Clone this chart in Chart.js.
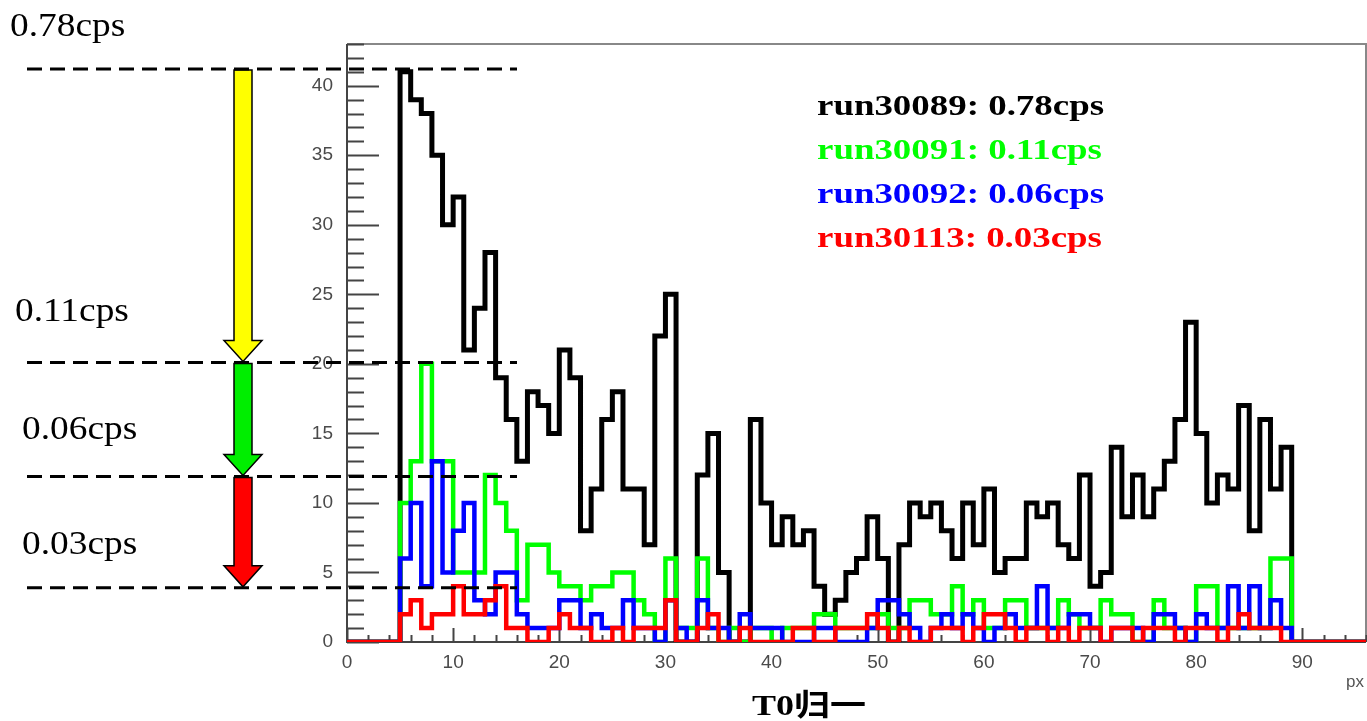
<!DOCTYPE html>
<html>
<head>
<meta charset="utf-8">
<script src="https://cdn.jsdelivr.net/npm/chart.js@4.4.1/dist/chart.umd.min.js"></script>
<style>
  body { margin:0; width:1367px; height:721px; overflow:hidden; background:#fff; position:relative; }
  #c { position:absolute; left:0; top:0; }
  .serif { position:absolute; font-family:"Liberation Serif","Times New Roman",serif; white-space:nowrap; transform-origin:left center; }
  .cps { font-size:34px; line-height:34px; transform:scaleX(1.1); color:#000; }
  .legend { left:817px; top:83px; font-size:30px; line-height:44px; font-weight:bold; transform:scaleX(1.23); transform-origin:left top; }
  .title { left:752px; top:688px; font-size:30px; line-height:34px; font-weight:bold; transform:scaleX(1.2);
           font-family:"Liberation Serif","Times New Roman","Noto Sans CJK SC",serif; }
  .axis-title { position:absolute; right:3px; top:672px; font:17px "Liberation Sans",Arial,sans-serif; color:#555; }
</style>
</head>
<body>
<canvas id="c" width="1367" height="721"></canvas>
<div id="notes"></div>
<div class="serif legend" id="legend"></div>
<div class="serif title">T0归一</div>
<div class="axis-title">px</div>

<script>
/* ---------- data: counts per 1-px bin, bins 0..95 ---------- */
const runs   = ['run30089', 'run30091', 'run30092', 'run30113'];
const rates  = ['0.78', '0.11', '0.06', '0.03'];
const colors = ['#000000', '#00ff00', '#0000ff', '#ff0000'];

const black = [
  0,0,0,0,0,  41,39,38,35,30,  32,21,24,28,19,  16,13,18,17,15,
  21,19,8,11,16,  18,11,11,7,22,  25,0,0,12,15,  5,0,0,16,10,
  7,9,7,8,4,  2,3,5,6,9,  6,0,7,10,9,  10,8,6,10,7,
  11,5,6,6,10,  9,10,7,6,12,  4,5,14,9,12,  9,11,13,16,23,
  15,10,12,11,17,  8,16,11,14,0,  0,0,0,0,0,0
];
const green = [
  0,0,0,0,0,  10,13,20,13,13,  5,5,5,12,10,  8,3,7,7,5,
  4,4,3,4,4,  5,5,3,2,0,  6,1,1,6,1,  0,1,0,1,1,
  0,1,1,1,2,  2,1,1,1,1,  2,1,1,3,3,  2,2,4,2,3,
  1,1,3,3,1,  1,1,3,2,1,  1,3,2,2,0,  0,3,1,1,0,
  4,4,1,1,1,  1,1,6,6,0,  0,0,0,0,0,0
];
const blue = [
  0,0,0,0,0,  6,10,4,13,5,  8,10,3,2,5,  5,2,1,1,1,
  3,3,1,2,1,  1,3,1,1,0,  3,1,0,3,1,  1,0,2,1,1,
  1,0,0,0,1,  1,0,0,0,1,  3,3,2,1,0,  1,2,1,2,1,
  0,1,2,1,1,  4,1,1,2,2,  1,0,1,1,1,  0,2,2,1,0,
  2,1,1,4,1,  4,1,3,1,0,  0,0,0,0,0,0
];
const red = [
  0,0,0,0,0,  2,3,1,2,2,  4,2,2,3,4,  1,1,0,0,1,
  2,1,1,0,0,  1,0,1,1,1,  3,0,0,1,2,  0,0,1,0,0,
  0,0,1,1,0,  0,1,1,1,2,  1,0,1,0,0,  1,1,1,0,1,
  2,2,1,0,1,  1,0,1,0,1,  1,0,1,1,0,  1,1,1,0,1,
  1,1,0,1,2,  1,1,1,0,0,  0,0,0,0,0,0
];
const series = [black, green, blue, red];

const xTicks = [0, 10, 20, 30, 40, 50, 60, 70, 80, 90];
const yTicks = [0, 5, 10, 15, 20, 25, 30, 35, 40];

// dashed guide levels (in counts) and arrow colours between them
const cpsLevels   = [41.2, 20.1, 11.9, 3.9];
const arrowColors = ['#ffff00', '#00ee00', '#ff0000'];
const levelLabels = [
  { text: rates[0] + 'cps', x: 10, yc: 25 },
  { text: rates[1] + 'cps', x: 15, yc: 310 },
  { text: rates[2] + 'cps', x: 22, yc: 428 },
  { text: rates[3] + 'cps', x: 22, yc: 543 },
];

/* ---------- html text ---------- */
document.getElementById('legend').innerHTML = runs.map((r, i) =>
  `<div style="color:${colors[i]}">${r}: ${rates[i]}cps</div>`).join('');
document.getElementById('notes').innerHTML = levelLabels.map(l =>
  `<div class="serif cps" style="left:${l.x}px;top:${l.yc - 17}px">${l.text}</div>`).join('');

// histogram -> step points at bin left edges, plus closing edge
function toSteps(vals) {
  const pts = vals.map((v, i) => ({ x: i, y: v }));
  pts.push({ x: vals.length, y: vals[vals.length - 1] });
  return pts;
}

/* ---------- ROOT-like frame, inner ticks, guides ---------- */
const rootFrame = {
  id: 'rootFrame',
  beforeDatasetsDraw(chart) {
    const { ctx, chartArea: a, scales: { x, y } } = chart;
    ctx.save();
    ctx.lineWidth = 2;
    ctx.strokeStyle = '#888';
    ctx.beginPath();
    ctx.moveTo(a.left, a.top); ctx.lineTo(a.right, a.top); ctx.lineTo(a.right, a.bottom);
    ctx.stroke();
    ctx.strokeStyle = '#444';
    ctx.beginPath();
    ctx.moveTo(a.left, a.top); ctx.lineTo(a.left, a.bottom); ctx.lineTo(a.right, a.bottom);
    // y: minor every 1, major every 5
    for (let v = 0; v <= y.max; v++) {
      const py = Math.round(y.getPixelForValue(v)) + 0.5;
      ctx.moveTo(a.left, py); ctx.lineTo(a.left + (v % 5 === 0 ? 32 : 17), py);
    }
    // x: minor every 2, major every 10
    for (let v = 0; v <= x.max; v += 2) {
      const px = Math.round(x.getPixelForValue(v)) + 0.5;
      ctx.moveTo(px, a.bottom); ctx.lineTo(px, a.bottom - (v % 10 === 0 ? 14 : 7));
    }
    ctx.stroke();
    ctx.restore();
  },
  afterDatasetsDraw(chart) {
    const { ctx, chartArea: a, scales: { y } } = chart;
    const cx = a.left - 104, shaft = 9, head = 19, headLen = 21;
    ctx.save();
    // block arrows between successive levels
    for (let i = 0; i < arrowColors.length; i++) {
      const y0 = y.getPixelForValue(cpsLevels[i]) + 1;
      const y1 = y.getPixelForValue(cpsLevels[i + 1]) - 1;
      ctx.beginPath();
      ctx.moveTo(cx - shaft, y0);
      ctx.lineTo(cx + shaft, y0);
      ctx.lineTo(cx + shaft, y1 - headLen);
      ctx.lineTo(cx + head, y1 - headLen);
      ctx.lineTo(cx, y1);
      ctx.lineTo(cx - head, y1 - headLen);
      ctx.lineTo(cx - shaft, y1 - headLen);
      ctx.closePath();
      ctx.fillStyle = arrowColors[i];
      ctx.fill();
      ctx.lineWidth = 1.5;
      ctx.strokeStyle = '#000';
      ctx.stroke();
    }
    // dashed guides
    ctx.setLineDash([15, 8]);
    ctx.lineWidth = 3;
    ctx.strokeStyle = '#000';
    cpsLevels.forEach(lv => {
      const py = y.getPixelForValue(lv);
      ctx.beginPath();
      ctx.moveTo(a.left - 320, py);
      ctx.lineTo(a.left + 170, py);
      ctx.stroke();
    });
    ctx.restore();
  }
};

/* ---------- chart ---------- */
new Chart(document.getElementById('c'), {
  type: 'line',
  data: {
    datasets: series.map((vals, i) => ({
      label: runs[i],
      data: toSteps(vals),
      borderColor: colors[i],
      borderWidth: i === 0 ? 5 : 4.5,
      stepped: 'before',
      pointRadius: 0,
      fill: false,
      borderJoinStyle: 'miter',
      order: series.length - i,   // red on top, black underneath
    }))
  },
  options: {
    responsive: false,
    animation: false,
    devicePixelRatio: 1,
    layout: { padding: { left: 287, top: 44, right: 1, bottom: 0 } },
    plugins: { legend: { display: false }, tooltip: { enabled: false } },
    scales: {
      x: {
        type: 'linear', min: 0, max: 96,
        afterBuildTicks: s => { s.ticks = xTicks.map(v => ({ value: v })); },
        afterFit: s => { s.height = 79; },
        grid: { display: false, drawTicks: false },
        border: { display: false },
        ticks: { color: '#4a4a4a', padding: 9, font: { family: 'Liberation Sans', size: 19 } }
      },
      y: {
        type: 'linear', min: 0, max: 43,
        afterBuildTicks: s => { s.ticks = yTicks.map(v => ({ value: v })); },
        afterFit: s => { s.width = 60; },
        grid: { display: false, drawTicks: false },
        border: { display: false },
        ticks: { color: '#4a4a4a', padding: 14, font: { family: 'Liberation Sans', size: 19 } }
      }
    }
  },
  plugins: [rootFrame]
});
</script>
</body>
</html>
